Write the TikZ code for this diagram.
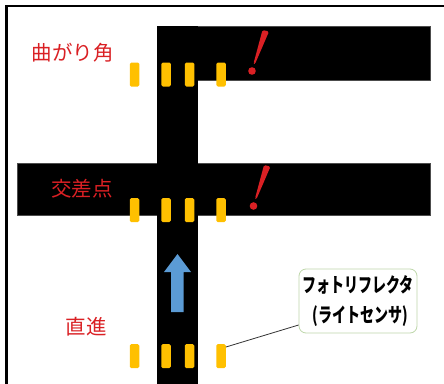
\documentclass[tikz,border=0pt]{standalone}
\usepackage{fontspec}
\newfontfamily\cjk{Noto Sans CJK JP}
\definecolor{sensorY}{RGB}{255,192,0}
\definecolor{labelR}{RGB}{218,32,36}
\definecolor{arrowB}{RGB}{91,155,213}
\definecolor{calloutG}{RGB}{190,215,170}
\newcommand{\calltxt}[1]{\scalebox{0.7}[1]{\cjk\bfseries\fontsize{20}{22}\selectfont #1}}
\tikzset{
  road/.style={fill=black, draw=black!70, line width=0.4pt},
  sensor/.style={rectangle, rounded corners=1.5pt, fill=sensorY, draw=none, minimum width=9.5pt, minimum height=24pt, inner sep=0pt},
  redlabel/.style={text=labelR, font=\cjk\fontsize{20.5}{22}\selectfont, inner sep=0pt},
  bang/.style={fill=labelR, draw=none},
  callout/.style={draw=calloutG, line width=0.8pt, rounded corners=7pt, fill=white, minimum width=118pt, minimum height=64pt, inner sep=0pt, align=center},
}
\begin{document}
\begin{tikzpicture}[x=1pt,y=-1pt]
\useasboundingbox (0,0) rectangle (444,383);
\fill[white] (0,0) rectangle (444,383);
\draw[line width=2.6pt] (6.5,6) rectangle (460,400);
% roads
\path[road] (157,26) rectangle (430,80);
\path[road] (17,163) rectangle (430,215);
\fill[black] (157,26) rectangle (198,390);
% sensors top
\node[sensor] (s11) at (134.5,74.5) {};
\node[sensor] (s12) at (166,74.5) {};
\node[sensor] (s13) at (189.5,74.5) {};
\node[sensor] (s14) at (221,74.5) {};
% sensors cross
\node[sensor] (s21) at (134.5,210) {};
\node[sensor] (s22) at (166,210) {};
\node[sensor] (s23) at (189.5,210) {};
\node[sensor] (s24) at (221,210) {};
% sensors bottom
\node[sensor] (s31) at (134.5,356) {};
\node[sensor] (s32) at (166,356) {};
\node[sensor] (s33) at (189.5,356) {};
\node[sensor] (s34) at (221,356) {};
% labels
\node[redlabel] (l1) at (72.5,53) {曲がり角};
\node[redlabel] (l2) at (82,189) {交差点};
\node[redlabel] (l3) at (86,327) {直進};
% exclamation marks
\fill[bang, rounded corners=1.5pt] (262.5,30) -- (269,31.5) -- (255,64) -- (253.5,63.5) -- cycle;
\fill[bang] (252,71) circle (3.8);
\fill[bang, rounded corners=1.5pt] (264,165) -- (270.5,166.5) -- (256.5,199) -- (255,198.5) -- cycle;
\fill[bang] (253.5,206) circle (3.8);
% blue arrow
\fill[arrowB] (171,312) -- (171,272) -- (164,272) -- (177.5,254) -- (191,272) -- (183.5,272) -- (183.5,312) -- cycle;
% callout
\node[callout] (cb) at (358,301) {\calltxt{フォトリフレクタ}\\[11pt]\hspace*{4pt}\calltxt{(ライトセンサ)}};
\draw[black!80, line width=0.8pt] (s34.east) ++(0,-9) -- (cb.west |- 0,325);
\end{tikzpicture}
\end{document}
